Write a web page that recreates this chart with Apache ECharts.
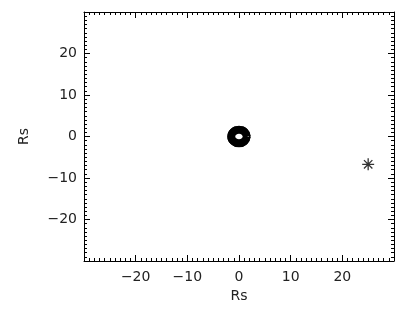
<!DOCTYPE html>
<html>
<head>
<meta charset="utf-8">
<script src="https://cdn.jsdelivr.net/npm/echarts@6/dist/echarts.min.js"></script>
<style>
html, body { margin: 0; padding: 0; background: #fff; }
#main { width: 401px; height: 317px; }
</style>
</head>
<body>
<div id="main"></div>
<script>
// contour ring around the origin
var ringPts = [[1.5, 0], [1.05, 1.15], [0, 1.65], [-1.05, 1.15], [-1.5, 0], [-1.05, -1.15], [0, -1.65], [1.05, -1.15], [1.5, 0]];
var ringPts2 = [[2.1, 0], [1.5, 1.7], [0, 2.35], [-1.5, 1.7], [-2.1, 0], [-1.5, -1.7], [0, -2.35], [1.5, -1.7], [2.1, 0]];
var starPt = [[25, -6.7]];
var axisMin = -30;
var axisMax = 30;

var chart = echarts.init(document.getElementById('main'));

var font = 'DejaVu Sans';
function fmt(v) {
	return String(v).replace('-', '\u2212');
}
var tickStyle = { color: '#000', width: 1 };
var lineStyle = { color: '#000', width: 1 };

var option = {
	animation: false,
	grid: { left: 84, right: 7, top: 12, bottom: 56, containLabel: false },
	xAxis: [{
		type: 'value', min: axisMin, max: axisMax, interval: 10,
		name: 'Rs', nameLocation: 'middle', nameGap: 26,
		nameTextStyle: { color: '#222', fontFamily: font, fontSize: 14 },
		axisLine: { show: true, onZero: false, lineStyle: lineStyle },
		axisTick: { inside: true, length: 6, lineStyle: tickStyle },
		minorTick: { show: true, splitNumber: 10, length: 3, lineStyle: tickStyle },
		splitLine: { show: false },
		axisLabel: { color: '#222', fontFamily: font, fontSize: 14, margin: 9, showMinLabel: false, showMaxLabel: false, formatter: fmt }
	}, {
		type: 'value', position: 'top', min: axisMin, max: axisMax, interval: 10,
		axisLine: { show: true, onZero: false, lineStyle: lineStyle },
		axisTick: { inside: true, length: 6, lineStyle: tickStyle },
		minorTick: { show: true, splitNumber: 10, length: 3, lineStyle: tickStyle },
		splitLine: { show: false },
		axisLabel: { show: false }
	}],
	yAxis: [{
		type: 'value', min: axisMin, max: axisMax, interval: 10,
		name: 'Rs', nameLocation: 'middle', nameGap: 53, nameRotate: 90,
		nameTextStyle: { color: '#222', fontFamily: font, fontSize: 14 },
		axisLine: { show: true, onZero: false, lineStyle: lineStyle },
		axisTick: { inside: true, length: 6, lineStyle: tickStyle },
		minorTick: { show: true, splitNumber: 10, length: 3, lineStyle: tickStyle },
		splitLine: { show: false },
		axisLabel: { color: '#222', fontFamily: font, fontSize: 14, margin: 7, showMinLabel: false, showMaxLabel: false, formatter: fmt }
	}, {
		type: 'value', position: 'right', min: axisMin, max: axisMax, interval: 10,
		axisLine: { show: true, onZero: false, lineStyle: lineStyle },
		axisTick: { inside: true, length: 6, lineStyle: tickStyle },
		minorTick: { show: true, splitNumber: 10, length: 3, lineStyle: tickStyle },
		splitLine: { show: false },
		axisLabel: { show: false }
	}],
	series: [{
		type: 'line', data: ringPts, smooth: true, symbol: 'none',
		lineStyle: { color: '#000', width: 8 }
	}, {
		type: 'line', data: ringPts2, smooth: true, symbol: 'none',
		lineStyle: { color: '#000', width: 1.5 }
	}, {
		type: 'scatter', data: starPt, symbolSize: 12,
		symbol: 'path://M5,0L5,10M0,5L10,5M1.5,1.5L8.5,8.5M1.5,8.5L8.5,1.5',
		itemStyle: { color: 'none', borderColor: '#000', borderWidth: 1.3 }
	}]
};

chart.setOption(option);
</script>
</body>
</html>
